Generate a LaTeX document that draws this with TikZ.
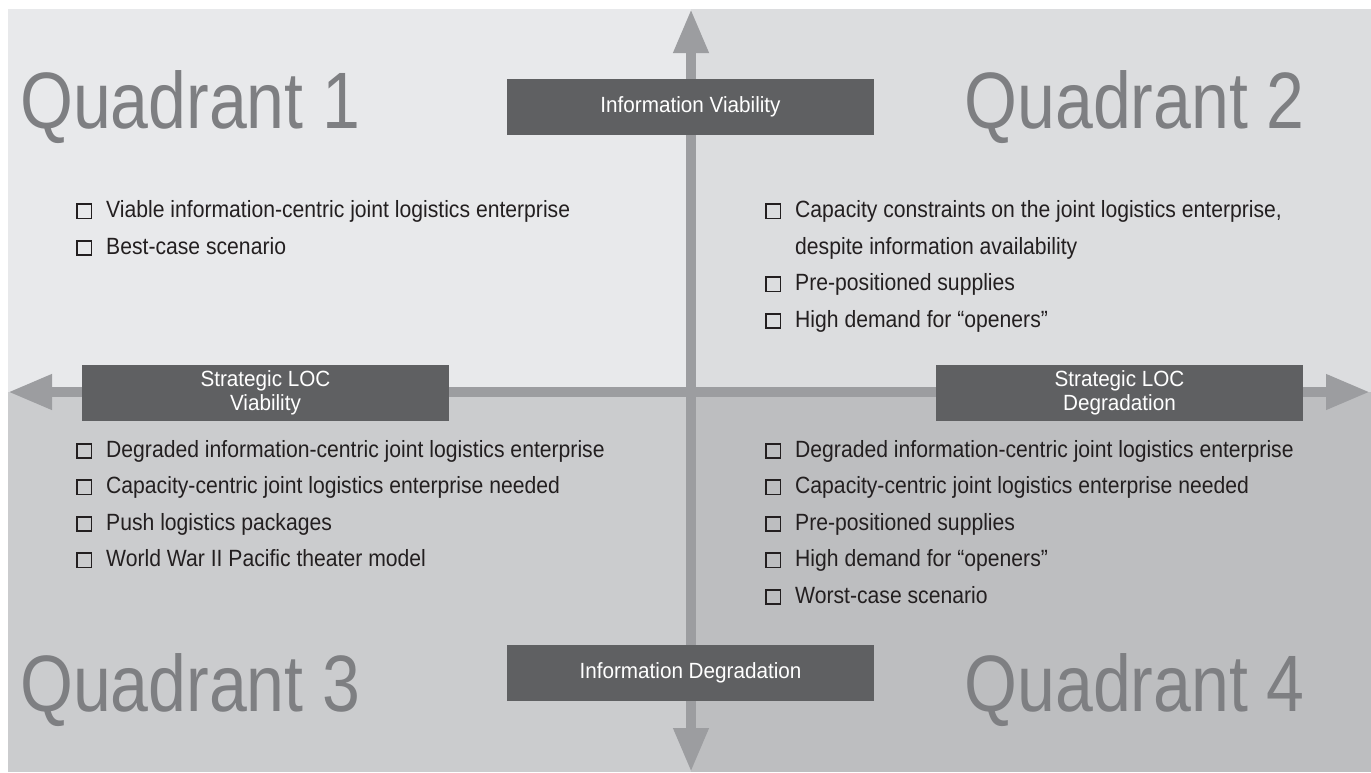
\documentclass[tikz,border=0pt]{standalone}
\usepackage{fontspec}
\setmainfont{Liberation Sans}[FakeStretch=0.9]
\newfontfamily\tagfont{Liberation Sans}[FakeStretch=0.94]
\newfontfamily\titlefont{Liberation Sans}[FakeStretch=0.85]
\usetikzlibrary{arrows.meta}

\definecolor{quadone}{HTML}{E8E9EB}
\definecolor{quadtwo}{HTML}{DCDDDF}
\definecolor{quadthree}{HTML}{CBCCCE}
\definecolor{quadfour}{HTML}{BDBEC0}
\definecolor{axisgray}{HTML}{9C9DA0}
\definecolor{taggray}{HTML}{5F6062}
\definecolor{titlegray}{HTML}{7E7F82}
\definecolor{inkblack}{HTML}{231F20}

\newcommand{\tickbox}{{\setlength{\fboxsep}{0pt}\setlength{\fboxrule}{1.8pt}%
    \fbox{\rule{0pt}{12.5pt}\hspace{12.5pt}}}\hspace{13.9pt}}

\begin{document}
\begin{tikzpicture}[
    x=1pt, y=-1pt,
    axisarrow/.style={
        draw=axisgray,
        line width=10pt,
        {Triangle[width=33pt,length=44pt]}-{Triangle[width=33pt,length=44pt]}
    },
    axistag/.style={
        fill=taggray,
        text=white,
        minimum width=367pt,
        minimum height=56pt,
        inner sep=0pt,
        align=center,
        font=\tagfont\fontsize{22}{24}\selectfont
    },
    quadtitle/.style={
        text=titlegray,
        inner sep=0pt,
        font=\titlefont\fontsize{80}{80}\selectfont
    },
    bullet/.style={
        text=inkblack,
        inner sep=0pt,
        anchor=base west,
        font=\fontsize{23.5}{24}\selectfont
    }
]
    \useasboundingbox (0,0) rectangle (1371,772);

    % quadrant panels
    \fill[quadone] (8,9) rectangle (691,392);
    \fill[quadtwo] (691,9) rectangle (1371,392);
    \fill[quadthree] (8,392) rectangle (691,772);
    \fill[quadfour] (691,392) rectangle (1371,772);

    % axes
    \coordinate (ntip) at (691,9);
    \coordinate (stip) at (691,772);
    \coordinate (wtip) at (8,392);
    \coordinate (etip) at (1370,392);
    \draw[axisarrow] (stip) -- (ntip);
    \draw[axisarrow] (wtip) -- (etip);

    \node[axistag] (infoviab) at (690.5,107) {Information Viability};
    \node[axistag] (infodegr) at (690.5,673) {Information Degradation};
    \node[axistag] (locviab) at (265.5,393) {Strategic LOC\\Viability};
    \node[axistag] (locdegr) at (1119.5,393) {Strategic LOC\\Degradation};

    \node[quadtitle, anchor=base west] (qone) at (20,128) {Quadrant 1};
    \node[quadtitle, anchor=base east] (qtwo) at (1305,128) {Quadrant 2};
    \node[quadtitle, anchor=base west] (qthree) at (20,711) {Quadrant 3};
    \node[quadtitle, anchor=base east] (qfour) at (1305,711) {Quadrant 4};

    % quadrant 1
    \node[bullet] (qoneitema) at (76,217.5) {\tickbox Viable information-centric joint logistics enterprise};
    \node[bullet] (qoneitemb) at (76,254) {\tickbox Best-case scenario};

    % quadrant 2
    \node[bullet] (qtwoitema) at (765,217.5) {\tickbox Capacity constraints on the joint logistics enterprise,};
    \node[bullet] (qtwoitemcont) at (795,254) {despite information availability};
    \node[bullet] (qtwoitemb) at (765,290.5) {\tickbox Pre-positioned supplies};
    \node[bullet] (qtwoitemc) at (765,327) {\tickbox High demand for “openers”};

    % quadrant 3
    \node[bullet] (qthreeitema) at (76,457) {\tickbox Degraded information-centric joint logistics enterprise};
    \node[bullet] (qthreeitemb) at (76,493.5) {\tickbox Capacity-centric joint logistics enterprise needed};
    \node[bullet] (qthreeitemc) at (76,530) {\tickbox Push logistics packages};
    \node[bullet] (qthreeitemd) at (76,566.5) {\tickbox World War II Pacific theater model};

    % quadrant 4
    \node[bullet] (qfouritema) at (765,457) {\tickbox Degraded information-centric joint logistics enterprise};
    \node[bullet] (qfouritemb) at (765,493.5) {\tickbox Capacity-centric joint logistics enterprise needed};
    \node[bullet] (qfouritemc) at (765,530) {\tickbox Pre-positioned supplies};
    \node[bullet] (qfouritemd) at (765,566.5) {\tickbox High demand for “openers”};
    \node[bullet] (qfouriteme) at (765,603) {\tickbox Worst-case scenario};
\end{tikzpicture}
\end{document}
